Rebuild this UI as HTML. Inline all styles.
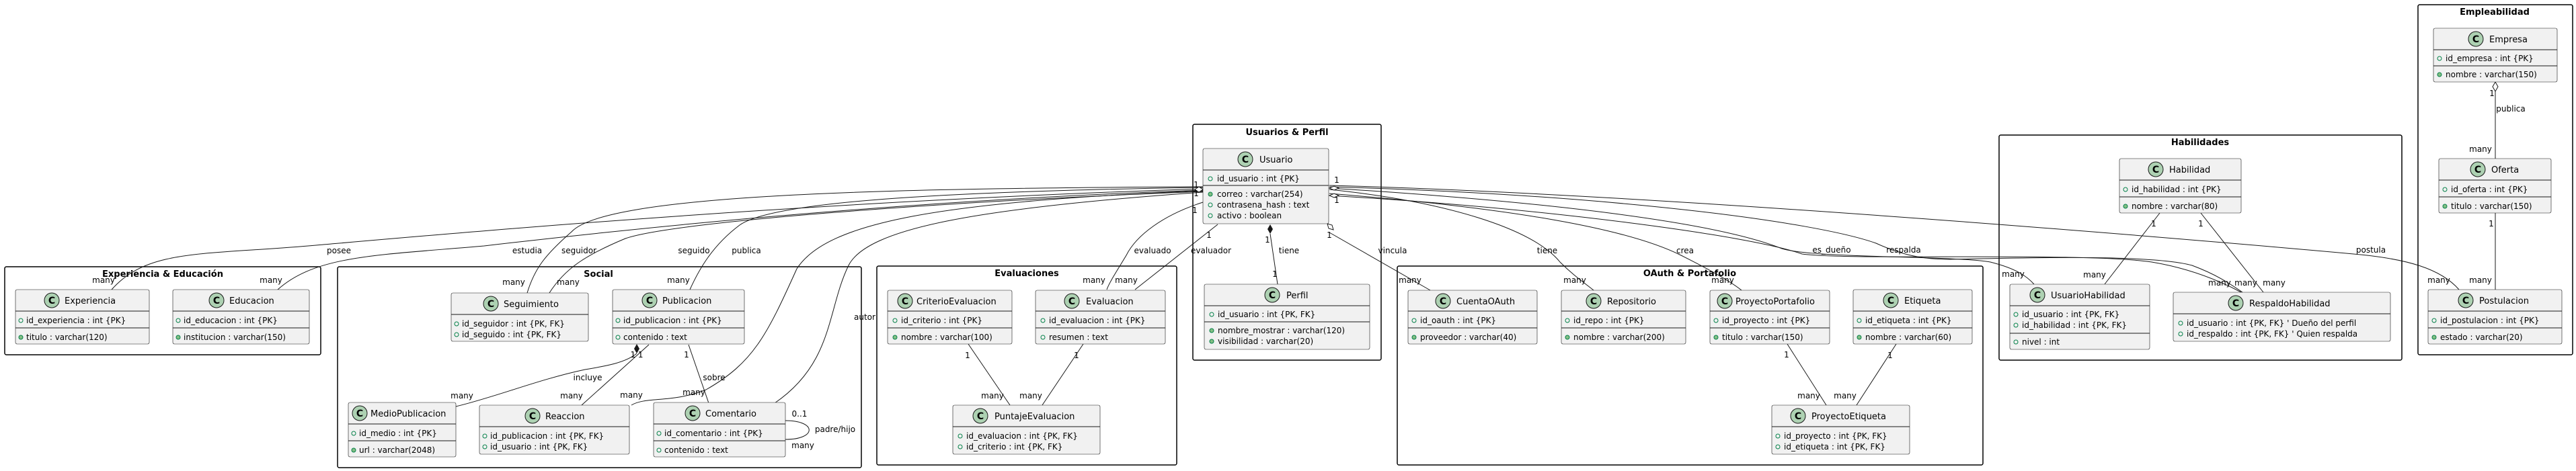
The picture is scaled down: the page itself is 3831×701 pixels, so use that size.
<!DOCTYPE html>
<html><head><meta charset="utf-8"><style>
html,body{margin:0;padding:0;background:#fff;}
svg{display:block;}
text{font-family:"DejaVu Sans","Liberation Sans",sans-serif;fill:#000;}
.cn{font-size:13px;}
.at{font-size:12px;}
.lb{font-size:12px;}
.gt{font-size:13px;font-weight:bold;}
.cb{fill:#F1F1F1;stroke:#181818;stroke-width:0.6;}
.sp{stroke:#181818;stroke-width:1;}
.ci{fill:#ADD1B2;stroke:#181818;stroke-width:1;}
.ct{font-size:14px;font-weight:bold;}
.mo{fill:none;stroke:#038048;stroke-width:1;}
.mf{fill:#84BE84;stroke:#038048;stroke-width:1;}
.gr{fill:none;stroke:#000;stroke-width:1.5;}
.ln{fill:none;stroke:#181818;stroke-width:1;}
</style></head><body>
<svg width="3831" height="701" viewBox="0 0 3831 701" xmlns="http://www.w3.org/2000/svg">
<rect width="3831" height="701" fill="#fff"/>

<!-- Groups -->
<rect class="gr" x="7" y="397" width="470" height="131" rx="2.5"/>
<text class="gt" x="242" y="412" text-anchor="middle">Experiencia &amp; Educación</text>
<rect class="gr" x="502" y="397" width="779" height="299" rx="2.5"/>
<text class="gt" x="890" y="412" text-anchor="middle">Social</text>
<rect class="gr" x="1304" y="396" width="446" height="296" rx="2.5"/>
<text class="gt" x="1527" y="411" text-anchor="middle">Evaluaciones</text>
<rect class="gr" x="1774" y="185" width="280" height="351" rx="2.5"/>
<text class="gt" x="1914" y="201" text-anchor="middle">Usuarios &amp; Perfil</text>
<rect class="gr" x="2078" y="396" width="871" height="296" rx="2.5"/>
<text class="gt" x="2513" y="411" text-anchor="middle">OAuth &amp; Portafolio</text>
<rect class="gr" x="2973" y="201" width="599" height="335" rx="2.5"/>
<text class="gt" x="3272" y="216" text-anchor="middle">Habilidades</text>
<rect class="gr" x="3596" y="7" width="230" height="521" rx="2.5"/>
<text class="gt" x="3710" y="22" text-anchor="middle">Empleabilidad</text>

<!-- Connectors from Usuario (left) -->
<path class="ln" d="M1789,281 C1200,300 700,345 470,365 C300,380 220,370 166,431"/>
<path class="ln" d="M1789,283 C1300,300 900,345 720,366 C560,380 470,380 413,431"/>
<path class="ln" d="M1789,278 C1300,280 900,290 850,345 C810,380 795,400 784,436"/>
<path class="ln" d="M1789,285 C1400,300 1000,330 930,355 C870,380 840,400 817,436"/>
<path class="ln" d="M1789,279 C1400,285 1150,300 1100,335 C1060,365 1040,400 1026,431"/>
<path class="ln" d="M1789,284 C1400,300 1230,330 1185,400 C1140,500 1120,540 1050,580 C1000,600 960,590 939,603"/>
<path class="ln" d="M1789,286 C1450,310 1290,340 1262,395 C1230,460 1240,540 1152,600"/>
<path class="ln" d="M1789,301 C1730,320 1690,350 1675,380 C1660,405 1650,420 1646,431"/>
<path class="ln" d="M1811,334 L1688,431"/>
<path d="M1789,282 l-6,-4 l-6,4 l6,4z" fill="#fff" stroke="#181818"/>
<text class="lb" x="1779" y="279" text-anchor="middle">1</text>
<text class="lb" x="1779" y="292" text-anchor="middle">1</text>
<text class="lb" x="1777" y="317" text-anchor="middle">1</text>
<text class="lb" x="1798" y="354" text-anchor="middle">1</text>

<!-- Perfil / vincula -->
<path class="ln" d="M1889,348 L1900,423"/>
<path d="M1889,334 L1893,341 L1889,348 L1885,341Z" fill="#181818"/>
<path class="ln" d="M1977,346 L2127,432"/>
<path d="M1974,333 L1981,335 L1983,342 L1976,340Z" fill="#fff" stroke="#181818"/>

<!-- Connectors from Usuario (right) -->
<path class="ln" d="M1977,282 C2150,300 2280,340 2320,390 C2340,410 2355,420 2370,432"/>
<path class="ln" d="M1977,288 C2250,310 2420,340 2500,380 C2550,405 2575,420 2590,432"/>
<path class="ln" d="M1977,280 C2300,300 2550,330 2650,370 C2700,385 2900,380 2960,390 C3000,400 3015,412 3025,423"/>
<path class="ln" d="M1977,291 C2300,310 2600,350 2680,378 C2750,388 3100,375 3200,390 C3260,400 3305,420 3333,435"/>
<path class="ln" d="M1977,278 C2400,290 2700,330 2790,362 C2830,380 2860,386 2900,386 C3000,384 3200,378 3260,395 C3300,410 3320,425 3335,435"/>
<path class="ln" d="M1977,276 C2500,290 3300,360 3500,378 C3580,385 3630,400 3657,431"/>
<path d="M1977,280 l7,-3 l7,3 l-7,3z" fill="#fff" stroke="#181818"/>
<path d="M1977,291 l7,-3 l7,3 l-7,3z" fill="#fff" stroke="#181818"/>
<text class="lb" x="1988" y="272" text-anchor="middle">1</text>
<text class="lb" x="1988" y="302" text-anchor="middle">1</text>

<!-- Inner connectors -->
<path class="ln" d="M947,526 C930,540 900,545 870,550 C800,565 740,590 678,605"/>
<path d="M947,512 L951,519 L947,526 L943,519Z" fill="#181818"/>
<path class="ln" d="M965,513 L865,603"/>
<path class="ln" d="M1024,513 L1054,600"/>
<path class="ln" d="M1168,626 C1215,626 1215,654 1168,654"/>
<path class="ln" d="M1440,512 L1502,603"/>
<path class="ln" d="M1611,512 L1550,603"/>
<path class="ln" d="M2658,512 L2716,603"/>
<path class="ln" d="M2820,512 L2761,603"/>
<path class="ln" d="M3212,317 L3130,423"/>
<path class="ln" d="M3273,317 L3366,435"/>
<path class="ln" d="M3711,136 L3711,236"/>
<path d="M3711,122 L3715,129 L3711,136 L3707,129Z" fill="#fff" stroke="#181818"/>
<path class="ln" d="M3711,317 L3711,431"/>

<!-- Labels -->
<text class="lb" x="504" y="377" text-anchor="middle">posee</text>
<text class="lb" x="784" y="377" text-anchor="middle">estudia</text>
<text class="lb" x="861" y="377" text-anchor="middle">seguidor</text>
<text class="lb" x="1032" y="377" text-anchor="middle">seguido</text>
<text class="lb" x="1110" y="377" text-anchor="middle">publica</text>
<text class="lb" x="1286" y="476" text-anchor="middle">autor</text>
<text class="lb" x="1714" y="377" text-anchor="middle">evaluado</text>
<text class="lb" x="1801" y="377" text-anchor="middle">evaluador</text>
<text class="lb" x="1917" y="377" text-anchor="middle">tiene</text>
<text class="lb" x="2071" y="377" text-anchor="middle">vincula</text>
<text class="lb" x="2301" y="377" text-anchor="middle">tiene</text>
<text class="lb" x="2506" y="377" text-anchor="middle">crea</text>
<text class="lb" x="2724" y="376" text-anchor="middle">es_dueño</text>
<text class="lb" x="2831" y="376" text-anchor="middle">respalda</text>
<text class="lb" x="3526" y="376" text-anchor="middle">postula</text>
<text class="lb" x="3734" y="166" text-anchor="middle">publica</text>
<text class="lb" x="874" y="566" text-anchor="middle">incluye</text>
<text class="lb" x="1062" y="566" text-anchor="middle">sobre</text>
<text class="lb" x="1242" y="643" text-anchor="middle">padre/hijo</text>

<g class="lb" text-anchor="middle">
<text x="154" y="421">many</text><text x="403" y="421">many</text>
<text x="764" y="424">many</text><text x="845" y="424">many</text>
<text x="1009" y="421">many</text>
<text x="947" y="532">1 1</text><text x="1021" y="532">1</text>
<text x="687" y="593">many</text><text x="850" y="593">many</text><text x="939" y="592">many</text><text x="1032" y="588">many</text>
<text x="1189" y="620">0..1</text><text x="1194" y="667">many</text>
<text x="1627" y="421">many</text><text x="1675" y="421">many</text>
<text x="1439" y="533">1</text><text x="1601" y="533">1</text>
<text x="1476" y="593">many</text><text x="1533" y="593">many</text>
<text x="1885" y="361">1</text><text x="1896" y="412">1</text>
<text x="1977" y="354">1</text>
<text x="2097" y="421">many</text><text x="2342" y="421">many</text><text x="2562" y="421">many</text>
<text x="2657" y="532">1</text><text x="2811" y="533">1</text>
<text x="2690" y="593">many</text><text x="2744" y="593">many</text>
<text x="2994" y="412">many</text>
<text x="3115" y="413">many</text><text x="3203" y="337">1</text><text x="3273" y="337">1</text>
<text x="3301" y="425">many</text><text x="3340" y="425">many</text><text x="3382" y="425">many</text>
<text x="3627" y="421">many</text><text x="3689" y="421">many</text>
<text x="3706" y="143">1</text><text x="3689" y="226">many</text><text x="3705" y="337">1</text>
</g>

<!-- ===== Classes ===== -->
<!-- Experiencia -->
<rect class="cb" x="23" y="431" width="199" height="81" rx="2.5"/>
<line class="sp" x1="23" y1="463" x2="222" y2="463"/><line class="sp" x1="23" y1="488" x2="222" y2="488"/>
<circle class="ci" cx="77" cy="447" r="11"/><text class="ct" x="77" y="452" text-anchor="middle">C</text>
<text class="cn" x="96" y="452">Experiencia</text>
<circle class="mo" cx="31" cy="477" r="3"/><text class="at" x="39" y="481">id_experiencia : int {PK}</text>
<circle class="mf" cx="31" cy="502" r="3"/><text class="at" x="39" y="506">titulo : varchar(120)</text>

<!-- Educacion -->
<rect class="cb" x="257" y="431" width="203" height="81" rx="2.5"/>
<line class="sp" x1="257" y1="463" x2="460" y2="463"/><line class="sp" x1="257" y1="488" x2="460" y2="488"/>
<circle class="ci" cx="322" cy="447" r="11"/><text class="ct" x="322" y="452" text-anchor="middle">C</text>
<text class="cn" x="341" y="452">Educacion</text>
<circle class="mo" cx="265" cy="477" r="3"/><text class="at" x="273" y="481">id_educacion : int {PK}</text>
<circle class="mf" cx="265" cy="502" r="3"/><text class="at" x="273" y="506">institucion : varchar(150)</text>

<!-- Seguimiento -->
<rect class="cb" x="671" y="436" width="204" height="72" rx="2.5"/>
<line class="sp" x1="671" y1="468" x2="875" y2="468"/>
<circle class="ci" cx="730" cy="452" r="11"/><text class="ct" x="730" y="457" text-anchor="middle">C</text>
<text class="cn" x="749" y="457">Seguimiento</text>
<circle class="mo" cx="679" cy="482" r="3"/><text class="at" x="687" y="486">id_seguidor : int {PK, FK}</text>
<circle class="mo" cx="679" cy="498" r="3"/><text class="at" x="687" y="502">id_seguido : int {PK, FK}</text>

<!-- Publicacion -->
<rect class="cb" x="911" y="431" width="196" height="81" rx="2.5"/>
<line class="sp" x1="911" y1="463" x2="1107" y2="463"/><line class="sp" x1="911" y1="488" x2="1107" y2="488"/>
<circle class="ci" cx="966" cy="447" r="11"/><text class="ct" x="966" y="452" text-anchor="middle">C</text>
<text class="cn" x="985" y="452">Publicacion</text>
<circle class="mo" cx="919" cy="477" r="3"/><text class="at" x="927" y="481">id_publicacion : int {PK}</text>
<circle class="mo" cx="919" cy="502" r="3"/><text class="at" x="927" y="506">contenido : text</text>

<!-- MedioPublicacion -->
<rect class="cb" x="518" y="599" width="160" height="81" rx="2.5"/>
<line class="sp" x1="518" y1="631" x2="678" y2="631"/><line class="sp" x1="518" y1="656" x2="678" y2="656"/>
<circle class="ci" cx="535" cy="615" r="11"/><text class="ct" x="535" y="620" text-anchor="middle">C</text>
<text class="cn" x="551" y="620">MedioPublicacion</text>
<circle class="mo" cx="526" cy="645" r="3"/><text class="at" x="534" y="649">id_medio : int {PK}</text>
<circle class="mf" cx="526" cy="670" r="3"/><text class="at" x="534" y="674">url : varchar(2048)</text>

<!-- Reaccion -->
<rect class="cb" x="713" y="603" width="223" height="73" rx="2.5"/>
<line class="sp" x1="713" y1="635" x2="936" y2="635"/>
<circle class="ci" cx="792" cy="619" r="11"/><text class="ct" x="792" y="624" text-anchor="middle">C</text>
<text class="cn" x="811" y="624">Reaccion</text>
<circle class="mo" cx="721" cy="649" r="3"/><text class="at" x="729" y="653">id_publicacion : int {PK, FK}</text>
<circle class="mo" cx="721" cy="665" r="3"/><text class="at" x="729" y="669">id_usuario : int {PK, FK}</text>

<!-- Comentario -->
<rect class="cb" x="972" y="599" width="196" height="81" rx="2.5"/>
<line class="sp" x1="972" y1="631" x2="1168" y2="631"/><line class="sp" x1="972" y1="656" x2="1168" y2="656"/>
<circle class="ci" cx="1030" cy="615" r="11"/><text class="ct" x="1030" y="620" text-anchor="middle">C</text>
<text class="cn" x="1049" y="620">Comentario</text>
<circle class="mo" cx="980" cy="645" r="3"/><text class="at" x="988" y="649">id_comentario : int {PK}</text>
<circle class="mo" cx="980" cy="670" r="3"/><text class="at" x="988" y="674">contenido : text</text>

<!-- CriterioEvaluacion -->
<rect class="cb" x="1320" y="432" width="185" height="80" rx="2.5"/>
<line class="sp" x1="1320" y1="463" x2="1505" y2="463"/><line class="sp" x1="1320" y1="488" x2="1505" y2="488"/>
<circle class="ci" cx="1346" cy="448" r="11"/><text class="ct" x="1346" y="453" text-anchor="middle">C</text>
<text class="cn" x="1363" y="453">CriterioEvaluacion</text>
<circle class="mo" cx="1331" cy="477" r="3"/><text class="at" x="1340" y="481">id_criterio : int {PK}</text>
<circle class="mf" cx="1331" cy="502" r="3"/><text class="at" x="1340" y="506">nombre : varchar(100)</text>

<!-- Evaluacion -->
<rect class="cb" x="1540" y="432" width="193" height="80" rx="2.5"/>
<line class="sp" x1="1540" y1="463" x2="1733" y2="463"/><line class="sp" x1="1540" y1="488" x2="1733" y2="488"/>
<circle class="ci" cx="1594" cy="448" r="11"/><text class="ct" x="1594" y="453" text-anchor="middle">C</text>
<text class="cn" x="1615" y="453">Evaluacion</text>
<circle class="mo" cx="1551" cy="477" r="3"/><text class="at" x="1560" y="481">id_evaluacion : int {PK}</text>
<circle class="mo" cx="1551" cy="502" r="3"/><text class="at" x="1560" y="506">resumen : text</text>

<!-- PuntajeEvaluacion -->
<rect class="cb" x="1417" y="603" width="219" height="73" rx="2.5"/>
<line class="sp" x1="1417" y1="635" x2="1636" y2="635"/>
<circle class="ci" cx="1458" cy="619" r="11"/><text class="ct" x="1458" y="624" text-anchor="middle">C</text>
<text class="cn" x="1479" y="624">PuntajeEvaluacion</text>
<circle class="mo" cx="1428" cy="649" r="3"/><text class="at" x="1437" y="653">id_evaluacion : int {PK, FK}</text>
<circle class="mo" cx="1428" cy="665" r="3"/><text class="at" x="1437" y="669">id_criterio : int {PK, FK}</text>

<!-- Usuario -->
<rect class="cb" x="1789" y="221" width="187" height="112" rx="2.5"/>
<line class="sp" x1="1789" y1="253" x2="1976" y2="253"/><line class="sp" x1="1789" y1="276" x2="1976" y2="276"/>
<circle class="ci" cx="1852" cy="237" r="11"/><text class="ct" x="1852" y="242" text-anchor="middle">C</text>
<text class="cn" x="1873" y="242">Usuario</text>
<circle class="mo" cx="1800" cy="266" r="3"/><text class="at" x="1810" y="270">id_usuario : int {PK}</text>
<circle class="mf" cx="1800" cy="289" r="3"/><text class="at" x="1810" y="293">correo : varchar(254)</text>
<circle class="mo" cx="1800" cy="305" r="3"/><text class="at" x="1810" y="309">contrasena_hash : text</text>
<circle class="mo" cx="1800" cy="321" r="3"/><text class="at" x="1810" y="325">activo : boolean</text>

<!-- Perfil -->
<rect class="cb" x="1791" y="423" width="246" height="97" rx="2.5"/>
<line class="sp" x1="1791" y1="455" x2="2037" y2="455"/><line class="sp" x1="1791" y1="479" x2="2037" y2="479"/>
<circle class="ci" cx="1892" cy="439" r="11"/><text class="ct" x="1892" y="444" text-anchor="middle">C</text>
<text class="cn" x="1913" y="444">Perfil</text>
<circle class="mo" cx="1802" cy="468" r="3"/><text class="at" x="1811" y="472">id_usuario : int {PK, FK}</text>
<circle class="mf" cx="1802" cy="492" r="3"/><text class="at" x="1811" y="496">nombre_mostrar : varchar(120)</text>
<circle class="mf" cx="1802" cy="508" r="3"/><text class="at" x="1811" y="512">visibilidad : varchar(20)</text>

<!-- CuentaOAuth -->
<rect class="cb" x="2094" y="432" width="192" height="80" rx="2.5"/>
<line class="sp" x1="2094" y1="463" x2="2286" y2="463"/><line class="sp" x1="2094" y1="488" x2="2286" y2="488"/>
<circle class="ci" cx="2146" cy="448" r="11"/><text class="ct" x="2146" y="453" text-anchor="middle">C</text>
<text class="cn" x="2166" y="453">CuentaOAuth</text>
<circle class="mo" cx="2103" cy="477" r="3"/><text class="at" x="2112" y="481">id_oauth : int {PK}</text>
<circle class="mf" cx="2103" cy="502" r="3"/><text class="at" x="2112" y="506">proveedor : varchar(40)</text>

<!-- Repositorio -->
<rect class="cb" x="2322" y="432" width="185" height="80" rx="2.5"/>
<line class="sp" x1="2322" y1="463" x2="2507" y2="463"/><line class="sp" x1="2322" y1="488" x2="2507" y2="488"/>
<circle class="ci" cx="2370" cy="448" r="11"/><text class="ct" x="2370" y="453" text-anchor="middle">C</text>
<text class="cn" x="2390" y="453">Repositorio</text>
<circle class="mo" cx="2331" cy="477" r="3"/><text class="at" x="2340" y="481">id_repo : int {PK}</text>
<circle class="mf" cx="2331" cy="502" r="3"/><text class="at" x="2340" y="506">nombre : varchar(200)</text>

<!-- ProyectoPortafolio -->
<rect class="cb" x="2543" y="432" width="178" height="80" rx="2.5"/>
<line class="sp" x1="2543" y1="463" x2="2721" y2="463"/><line class="sp" x1="2543" y1="488" x2="2721" y2="488"/>
<circle class="ci" cx="2565" cy="448" r="11"/><text class="ct" x="2565" y="453" text-anchor="middle">C</text>
<text class="cn" x="2581" y="453">ProyectoPortafolio</text>
<circle class="mo" cx="2552" cy="477" r="3"/><text class="at" x="2561" y="481">id_proyecto : int {PK}</text>
<circle class="mf" cx="2552" cy="502" r="3"/><text class="at" x="2561" y="506">titulo : varchar(150)</text>

<!-- Etiqueta -->
<rect class="cb" x="2756" y="431" width="177" height="81" rx="2.5"/>
<line class="sp" x1="2756" y1="463" x2="2933" y2="463"/><line class="sp" x1="2756" y1="488" x2="2933" y2="488"/>
<circle class="ci" cx="2812" cy="447" r="11"/><text class="ct" x="2812" y="452" text-anchor="middle">C</text>
<text class="cn" x="2832" y="452">Etiqueta</text>
<circle class="mo" cx="2765" cy="477" r="3"/><text class="at" x="2774" y="481">id_etiqueta : int {PK}</text>
<circle class="mf" cx="2765" cy="502" r="3"/><text class="at" x="2774" y="506">nombre : varchar(60)</text>

<!-- ProyectoEtiqueta -->
<rect class="cb" x="2635" y="603" width="205" height="73" rx="2.5"/>
<line class="sp" x1="2635" y1="635" x2="2840" y2="635"/>
<circle class="ci" cx="2674" cy="619" r="11"/><text class="ct" x="2674" y="624" text-anchor="middle">C</text>
<text class="cn" x="2694" y="624">ProyectoEtiqueta</text>
<circle class="mo" cx="2644" cy="649" r="3"/><text class="at" x="2653" y="653">id_proyecto : int {PK, FK}</text>
<circle class="mo" cx="2644" cy="665" r="3"/><text class="at" x="2653" y="669">id_etiqueta : int {PK, FK}</text>

<!-- Habilidad -->
<rect class="cb" x="3152" y="236" width="181" height="81" rx="2.5"/>
<line class="sp" x1="3152" y1="268" x2="3333" y2="268"/><line class="sp" x1="3152" y1="293" x2="3333" y2="293"/>
<circle class="ci" cx="3206" cy="252" r="11"/><text class="ct" x="3206" y="257" text-anchor="middle">C</text>
<text class="cn" x="3226" y="257">Habilidad</text>
<circle class="mo" cx="3161" cy="282" r="3"/><text class="at" x="3170" y="286">id_habilidad : int {PK}</text>
<circle class="mf" cx="3161" cy="307" r="3"/><text class="at" x="3170" y="311">nombre : varchar(80)</text>

<!-- UsuarioHabilidad -->
<rect class="cb" x="2989" y="423" width="208" height="97" rx="2.5"/>
<line class="sp" x1="2989" y1="455" x2="3197" y2="455"/><line class="sp" x1="2989" y1="496" x2="3197" y2="496"/>
<circle class="ci" cx="3030" cy="439" r="11"/><text class="ct" x="3030" y="444" text-anchor="middle">C</text>
<text class="cn" x="3050" y="444">UsuarioHabilidad</text>
<circle class="mo" cx="2998" cy="468" r="3"/><text class="at" x="3007" y="472">id_usuario : int {PK, FK}</text>
<circle class="mo" cx="2998" cy="484" r="3"/><text class="at" x="3007" y="488">id_habilidad : int {PK, FK}</text>
<circle class="mo" cx="2998" cy="509" r="3"/><text class="at" x="3007" y="513">nivel : int</text>

<!-- RespaldoHabilidad -->
<rect class="cb" x="3232" y="435" width="323" height="73" rx="2.5"/>
<line class="sp" x1="3232" y1="467" x2="3555" y2="467"/>
<circle class="ci" cx="3325" cy="451" r="11"/><text class="ct" x="3325" y="456" text-anchor="middle">C</text>
<text class="cn" x="3345" y="456">RespaldoHabilidad</text>
<circle class="mo" cx="3243" cy="481" r="3"/><text class="at" x="3252" y="485">id_usuario : int {PK, FK} ' Dueño del perfil</text>
<circle class="mo" cx="3243" cy="497" r="3"/><text class="at" x="3252" y="501">id_respaldo : int {PK, FK} ' Quien respalda</text>

<!-- Empresa -->
<rect class="cb" x="3619" y="42" width="184" height="80" rx="2.5"/>
<line class="sp" x1="3619" y1="74" x2="3803" y2="74"/><line class="sp" x1="3619" y1="98" x2="3803" y2="98"/>
<circle class="ci" cx="3682" cy="58" r="11"/><text class="ct" x="3682" y="63" text-anchor="middle">C</text>
<text class="cn" x="3702" y="63">Empresa</text>
<circle class="mo" cx="3628" cy="87" r="3"/><text class="at" x="3637" y="91">id_empresa : int {PK}</text>
<circle class="mf" cx="3628" cy="111" r="3"/><text class="at" x="3637" y="115">nombre : varchar(150)</text>

<!-- Oferta -->
<rect class="cb" x="3627" y="236" width="167" height="81" rx="2.5"/>
<line class="sp" x1="3627" y1="268" x2="3794" y2="268"/><line class="sp" x1="3627" y1="293" x2="3794" y2="293"/>
<circle class="ci" cx="3685" cy="252" r="11"/><text class="ct" x="3685" y="257" text-anchor="middle">C</text>
<text class="cn" x="3705" y="257">Oferta</text>
<circle class="mo" cx="3636" cy="282" r="3"/><text class="at" x="3645" y="286">id_oferta : int {PK}</text>
<circle class="mf" cx="3636" cy="307" r="3"/><text class="at" x="3645" y="311">titulo : varchar(150)</text>

<!-- Postulacion -->
<rect class="cb" x="3611" y="431" width="199" height="81" rx="2.5"/>
<line class="sp" x1="3611" y1="463" x2="3810" y2="463"/><line class="sp" x1="3611" y1="488" x2="3810" y2="488"/>
<circle class="ci" cx="3667" cy="447" r="11"/><text class="ct" x="3667" y="452" text-anchor="middle">C</text>
<text class="cn" x="3687" y="452">Postulacion</text>
<circle class="mo" cx="3620" cy="477" r="3"/><text class="at" x="3629" y="481">id_postulacion : int {PK}</text>
<circle class="mf" cx="3620" cy="502" r="3"/><text class="at" x="3629" y="506">estado : varchar(20)</text>
</svg>
</body></html>
